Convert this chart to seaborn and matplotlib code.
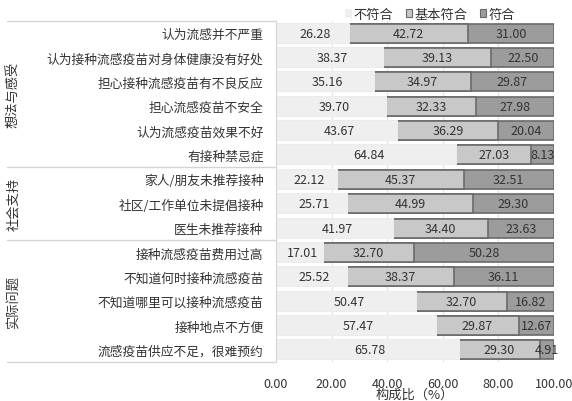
import numpy as np
import pandas as pd
import seaborn as sns
from matplotlib import pyplot as plt
from matplotlib.patches import Patch
from matplotlib.ticker import FixedLocator

# data
categories = ["认为流感并不严重", "认为接种流感疫苗对身体健康没有好处", "担心接种流感疫苗有不良反应",
              "担心流感疫苗不安全", "认为流感疫苗效果不好", "有接种禁忌症",
              "家人/朋友未推荐接种", "社区/工作单位未提倡接种", "医生未推荐接种",
              "接种流感疫苗费用过高", "不知道何时接种流感疫苗", "不知道哪里可以接种流感疫苗",
              "接种地点不方便", "流感疫苗供应不足，很难预约"]
not_fit = [26.28, 38.37, 35.16, 39.70, 43.67, 64.84, 22.12, 25.71, 41.97, 17.01, 25.52, 50.47, 57.47, 65.78]
basic_fit = [42.72, 39.13, 34.97, 32.33, 36.29, 27.03, 45.37, 44.99, 34.40, 32.70, 38.37, 32.70, 29.87, 29.30]
fit = [31.00, 22.50, 29.87, 27.98, 20.04, 8.13, 32.51, 29.30, 23.63, 50.28, 36.11, 16.82, 12.67, 4.91]
series_names = ["不符合", "基本符合", "符合"]
groups = ["想法与感受", "社会支持", "实际问题"]
group_sizes = [6, 3, 5]
xticks = [0, 20, 40, 60, 80, 100]

sns.set_style("white")
plt.rcParams['font.family'] = ['Noto Sans CJK SC', 'DejaVu Sans']

colors = ["#efefef", "#c8c8c8", "#9c9c9c"]
edge = "#6a6a6a"
txt = "#333333"

df = pd.DataFrame({"cat": categories, "a": not_fit, "b": basic_fit, "c": fit})
df["ab"] = df["a"] + df["b"]
df["abc"] = df["ab"] + df["c"]

fig = plt.figure(figsize=(5.72, 4.02), dpi=100)
ax = fig.add_axes([276 / 572, 1 - 363 / 402, 278 / 572, 341 / 402])

# stacked bars drawn as cumulative layers, back to front
bw = 0.78
sns.barplot(data=df, x="abc", y="cat", color=colors[2], edgecolor=edge, linewidth=1.2,
            width=bw, saturation=1, ax=ax)
sns.barplot(data=df, x="ab", y="cat", color=colors[1], edgecolor=edge, linewidth=1.2,
            width=bw, saturation=1, ax=ax)
sns.barplot(data=df, x="a", y="cat", color=colors[0], edgecolor=colors[0], linewidth=1.4,
            width=bw, saturation=1, ax=ax)

# value labels in the middle of each segment
for i, row in df.iterrows():
    ax.text(row["a"] / 2 + 1, i, f"{row['a']:.2f}", ha="center", va="center", fontsize=9, color=txt)
    ax.text(row["a"] + row["b"] / 2, i, f"{row['b']:.2f}", ha="center", va="center", fontsize=9, color=txt)
    ax.text(row["ab"] + row["c"] / 2, i, f"{row['c']:.2f}", ha="center", va="center", fontsize=9,
            color=txt, clip_on=False)

ax.set_xlim(0, 100)
ax.set_ylim(len(categories) - 0.5, -0.5)
ax.xaxis.set_major_locator(FixedLocator(xticks))
ax.set_xticklabels([f"{v:.2f}" for v in xticks])
ax.tick_params(axis="x", length=0, pad=11, labelsize=9, labelcolor=txt)
ax.tick_params(axis="y", length=0, pad=9, labelsize=9.2, labelcolor=txt)
ax.set_ylabel("")
ax.set_xlabel("构成比（%）", fontsize=9.5, color=txt, labelpad=-2)
ax.set_axisbelow(True)
ax.xaxis.grid(True, color="#e3e3e3", linewidth=0.8)
for s in ["top", "right", "bottom"]:
    ax.spines[s].set_visible(False)
ax.spines["left"].set_color("#d4d4d4")

# group separators and group names on the left
trans = ax.get_yaxis_transform()
bounds = np.concatenate([[0], np.cumsum(group_sizes)]) - 0.5
for yb in bounds:
    ax.plot([-0.968, 0], [yb, yb], transform=trans, color="#d4d4d4", linewidth=1, clip_on=False)
for g, lo, hi in zip(groups, bounds[:-1], bounds[1:]):
    ax.text(-0.945, (lo + hi) / 2, g, transform=trans, rotation=90, ha="center", va="center",
            fontsize=9.5, color=txt)

handles = [Patch(facecolor=c, edgecolor=(c if k == 0 else edge), linewidth=0.8)
           for k, c in enumerate(colors)]
fig.legend(handles, series_names, loc="center", bbox_to_anchor=(430 / 572, 1 - 15 / 402), ncol=3,
           frameon=False, fontsize=9.5, handlelength=0.5, handleheight=0.5, handletextpad=0.2,
           columnspacing=0.9, labelcolor=txt)

fig.savefig("out.png", dpi=100)
